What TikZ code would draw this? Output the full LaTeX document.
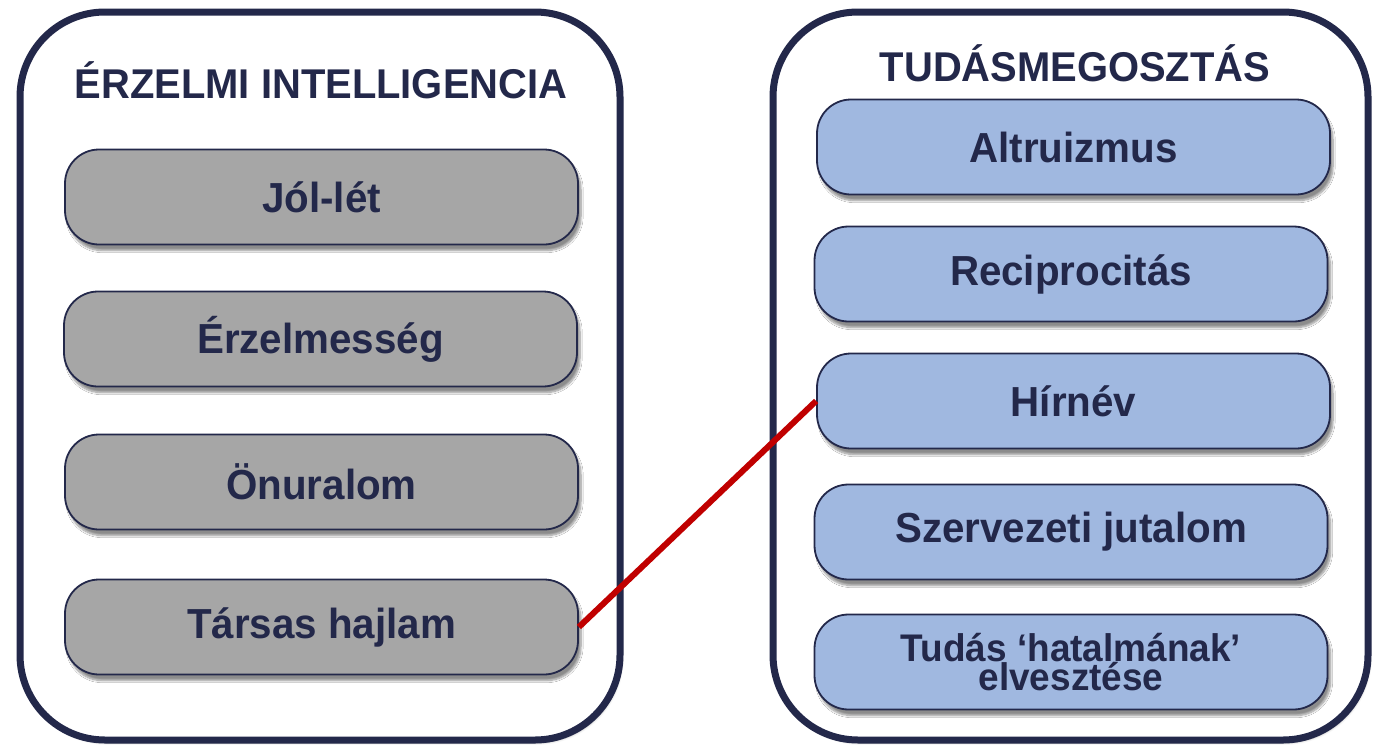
\documentclass[tikz,border=0pt]{standalone}
\usepackage{fontspec}
\setmainfont[FakeStretch=0.96]{Liberation Sans}
\usetikzlibrary{shadows.blur}
\definecolor{navy}{HTML}{23284A}
\definecolor{boxgray}{HTML}{A6A6A6}
\definecolor{boxblue}{HTML}{A0B8E0}
\definecolor{linkred}{HTML}{C00000}
\tikzset{
  outerbox/.style={draw=navy, line width=7pt, rounded corners=85pt, fill=white,
    blur shadow={shadow xshift=2pt, shadow yshift=-3pt, shadow opacity=25, shadow blur steps=6}},
  itembox/.style={draw=navy, line width=1.8pt, rounded corners=34pt, minimum width=513pt,
    minimum height=95pt, text=navy, font=\fontsize{42}{40}\selectfont\bfseries, align=center,
    inner sep=0pt,
    blur shadow={shadow xshift=3pt, shadow yshift=-6pt, shadow opacity=45, shadow blur steps=8}},
  grayitem/.style={itembox, fill=boxgray},
  blueitem/.style={itembox, fill=boxblue},
  title/.style={text=navy, font=\fontsize{41.6}{40}\selectfont\bfseries},
  link/.style={draw=linkred, line width=6pt}
}
\begin{document}
\begin{tikzpicture}[x=1pt,y=-1pt]
\useasboundingbox (0,0) rectangle (1378,747);
\path[outerbox] (20,12) rectangle (620,740);
\path[outerbox] (773,12) rectangle (1368,740);
\node[title] (t1) at (321,80) {ÉRZELMI INTELLIGENCIA};
\node[title] (t2) at (1075,63) {TUDÁSMEGOSZTÁS};
\node[grayitem] (jl) at (321.5,197) {Jól-lét};
\node[grayitem] (ez) at (320.5,339) {Érzelmesség};
\node[grayitem] (on) at (321.5,482) {Önuralom};
\node[grayitem] (th) at (321.5,627) {Társas hajlam};
\node[blueitem] (al) at (1073.5,147) {Altruizmus};
\node[blueitem] (re) at (1071,274) {Reciprocitás};
\node[blueitem] (hi) at (1073.5,401) {Hírnév};
\node[blueitem] (sz) at (1071,532) {Szervezeti jutalom};
\node[blueitem, font=\fontsize{38.5}{27}\selectfont\bfseries] (tu) at (1071,662) {Tudás ‘hatalmának’\\elvesztése};
\draw[link] (th.east) -- (hi.west);
\end{tikzpicture}
\end{document}
